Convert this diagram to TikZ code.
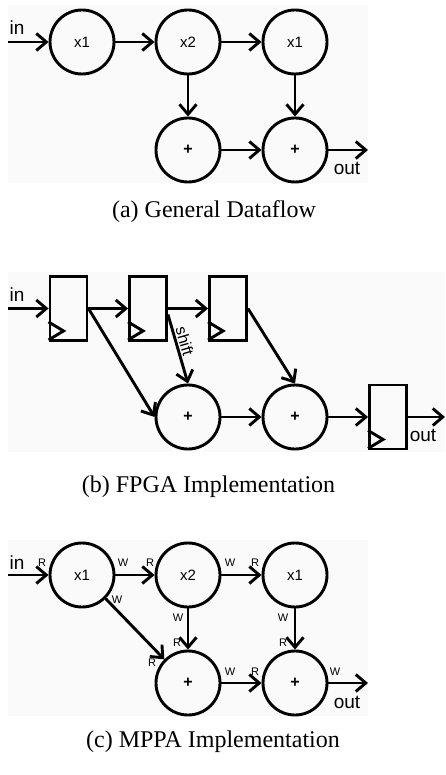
\documentclass[tikz,border=0pt]{standalone}
\usepackage{fontspec}
\setmainfont{Liberation Serif}
\newfontfamily\lblfont{Liberation Sans}
\usetikzlibrary{arrows.meta,calc}
\begin{document}
\begin{tikzpicture}[x=1pt,y=-1pt,
  op/.style={draw, circle, line width=2.9pt, minimum size=64pt, inner sep=0pt, font=\lblfont\fontsize{15}{17}\selectfont},
  addop/.style={op, font=\lblfont\bfseries\fontsize{16}{18}\selectfont},
  reg/.style={draw, rectangle, line width=2.9pt, minimum width=37pt, minimum height=64pt, inner sep=0pt},
  conn/.style={line width=2.9pt, -{Straight Barb[length=10pt,width=17pt,line width=2.9pt]}},
  clk/.style={line width=2.9pt, line join=miter},
  io/.style={font=\lblfont\fontsize{19}{21}\selectfont, inner sep=0pt},
  rw/.style={font=\lblfont\fontsize{11}{13}\selectfont, inner sep=0pt},
  shiftlbl/.style={font=\lblfont\fontsize{16}{18}\selectfont, inner sep=1.5pt},
  captext/.style={font=\fontsize{24}{28}\selectfont, inner sep=0pt},
  bg/.style={fill=black!2, draw=none}]
\useasboundingbox (0,0) rectangle (445,775);
\fill[white] (0,0) rectangle (445,775);

% ---------- (a) ----------
\fill[bg] (8,5) rectangle (368,183);
\node[op] (a1) at (82,42) {x1};
\node[op] (a2) at (188,42) {x2};
\node[op] (a3) at (295,42) {x1};
\node[addop] (a4) at (188,150) {+};
\node[addop] (a5) at (295,150) {+};
\coordinate (ain) at (8,42);
\coordinate (aout) at (368,150);
\node[io] (ainl) at (17,28) {in};
\node[io] (aoutl) at (347,168) {out};
\draw[conn] (ain) -- (a1);
\draw[conn] (a1) -- (a2);
\draw[conn] (a2) -- (a3);
\draw[conn] (a2) -- (a4);
\draw[conn] (a3) -- (a5);
\draw[conn] (a4) -- (a5);
\draw[conn] (a5) -- (aout);
\node[captext] (acap) at (214,212) {(a) General Dataflow};

% ---------- (b) ----------
\fill[bg] (8,272) rectangle (445,452);
\node[reg] (r1) at (68.5,308.5) {};
\node[reg] (r2) at (148,308.5) {};
\node[reg] (r3) at (228,308.5) {};
\node[reg] (r4) at (388,417) {};
\foreach \r in {r1,r2,r3,r4}{
  \draw[clk] ($(\r.south west)+(0,-2)$) -- ++(15,-9) -- ++(-15,-9);
}
\node[addop] (p1) at (188,417) {+};
\node[addop] (p2) at (295,417) {+};
\coordinate (bin) at (8,308.5);
\coordinate (bout) at (445,417);
\node[io] (binl) at (17,295) {in};
\node[io] (boutl) at (423,435) {out};
\draw[conn] (bin) -- (r1);
\draw[conn] (r1) -- (r2);
\draw[conn] (r2) -- (r3);
\draw[conn] (r1.east) -- (p1.west);
\draw[conn] ($(r2.east)+(0,6)$) -- node[shiftlbl, sloped, above, pos=0.42] (shl) {shift} (p1.north);
\draw[conn] (r3.east) -- (p2.north);
\draw[conn] (p1) -- (p2);
\draw[conn] (p2) -- (r4);
\draw[conn] (r4.east) -- (bout);
\node[captext] (bcap) at (208.5,487) {(b) FPGA Implementation};

% ---------- (c) ----------
\fill[bg] (8,540) rectangle (368,716);
\node[op] (c1) at (82,575) {x1};
\node[op] (c2) at (188,575) {x2};
\node[op] (c3) at (295,575) {x1};
\node[addop] (c4) at (188,683) {+};
\node[addop] (c5) at (295,683) {+};
\coordinate (cin) at (8,575);
\coordinate (cout) at (368,683);
\node[io] (cinl) at (17,563) {in};
\node[io] (coutl) at (347,702) {out};
\draw[conn] (cin) -- (c1);
\draw[conn] (c1) -- (c2);
\draw[conn] (c2) -- (c3);
\draw[conn] (c1.-45) -- (c4.135);
\draw[conn] (c2) -- (c4);
\draw[conn] (c3) -- (c5);
\draw[conn] (c4) -- (c5);
\draw[conn] (c5) -- (cout);
\node[rw] (l1) at (42,563) {R};
\node[rw] (l2) at (123,563) {W};
\node[rw] (l3) at (150,563) {R};
\node[rw] (l4) at (230,563) {W};
\node[rw] (l5) at (255,563) {R};
\node[rw] (l6) at (117,600) {W};
\node[rw] (l7) at (152,663) {R};
\node[rw] (l8) at (178,618) {W};
\node[rw] (l9) at (177,643) {R};
\node[rw] (l10) at (283,618) {W};
\node[rw] (l11) at (283,643) {R};
\node[rw] (l12) at (230,672) {W};
\node[rw] (l13) at (255,672) {R};
\node[rw] (l14) at (335,672) {W};
\node[captext] (ccap) at (213,742) {(c) MPPA Implementation};
\end{tikzpicture}
\end{document}
